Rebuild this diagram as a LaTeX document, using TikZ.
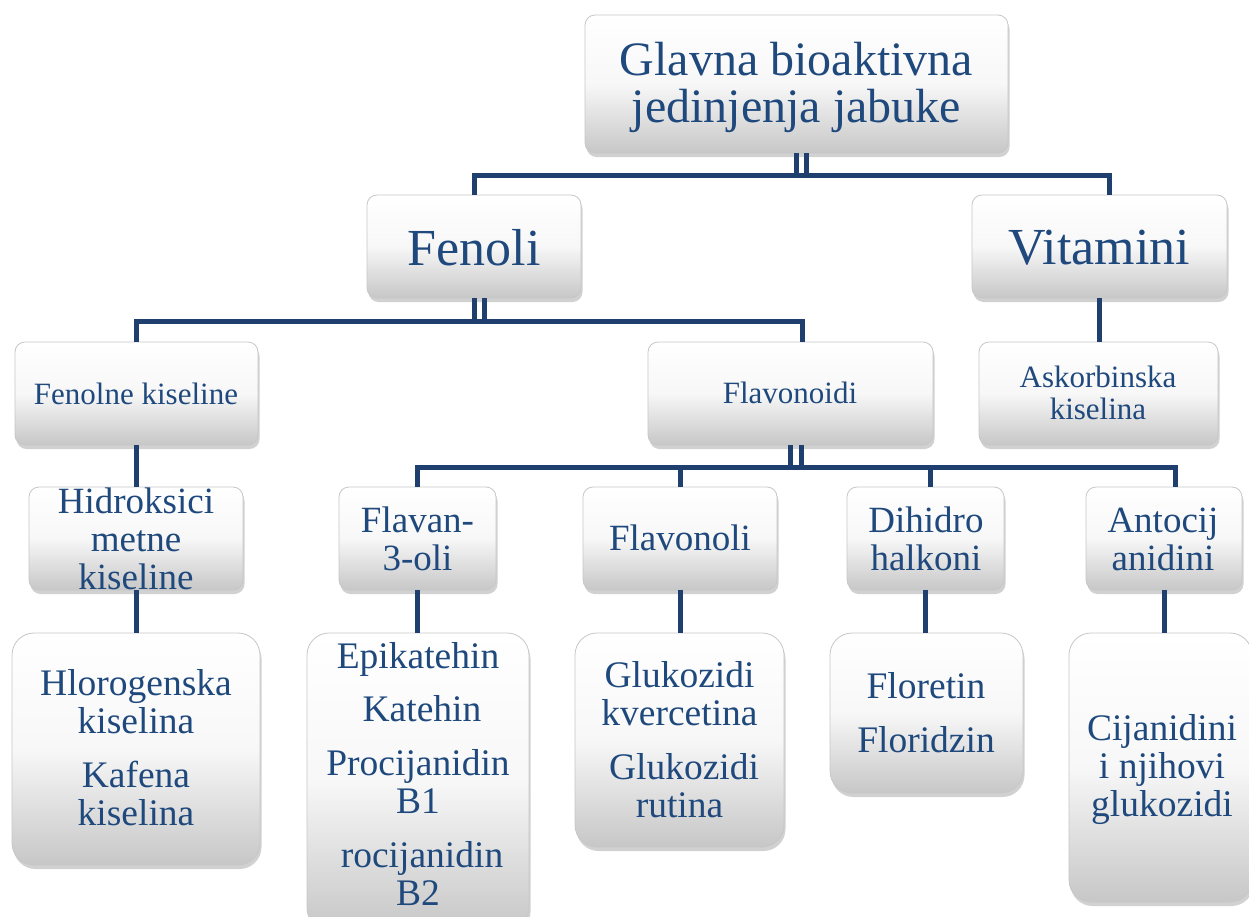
\documentclass[tikz,border=0pt]{standalone}
\usepackage{fontspec}
\setmainfont{Liberation Serif}
\usetikzlibrary{shadows}
\definecolor{txtblue}{HTML}{1F497D}
\definecolor{lineblue}{HTML}{1F406E}
\newcommand\fsRoot{\fontsize{48}{47}\selectfont}
\newcommand\fsBig{\fontsize{52}{54}\selectfont}
\newcommand\fsSmall{\fontsize{31}{32}\selectfont}
\newcommand\fsMid{\fontsize{37}{38}\selectfont}
\newcommand\fsLow{\fontsize{37.5}{38}\selectfont}
\newcommand\tb[1]{\begin{tabular}[t]{@{}c@{}}#1\end{tabular}}
\begin{document}
\begin{tikzpicture}[x=1pt,y=-1pt,
  box/.style={rectangle, rounded corners=10pt, draw=black!22, line width=0.8pt,
    top color=white, bottom color=black!22, middle color=black!3,
    drop shadow={shadow xshift=1.5pt, shadow yshift=-4pt, opacity=0.3, fill=black!60},
    inner sep=0pt},
  bigbox/.style={box, rounded corners=22pt},
  txt/.style={text=txtblue, inner sep=0pt, anchor=base},
  conn/.style={draw=lineblue, line width=5pt}]
\useasboundingbox (0,0) rectangle (1249,916);

% boxes
\node[box, minimum width=423pt, minimum height=138pt] (root) at (796.5,84) {};
\node[box, minimum width=214pt, minimum height=103pt] (fenoli) at (474,246.5) {};
\node[box, minimum width=255pt, minimum height=103pt] (vitamini) at (1099.5,246.5) {};
\node[box, minimum width=243pt, minimum height=103pt] (fenolne) at (136.5,393.5) {};
\node[box, minimum width=285pt, minimum height=103pt] (flavonoidi) at (790.5,393.5) {};
\node[box, minimum width=239pt, minimum height=103pt] (askorb) at (1098.5,393.5) {};
\node[box, minimum width=214pt, minimum height=103pt] (hidrok) at (136,538.5) {};
\node[box, minimum width=157pt, minimum height=103pt] (flavan) at (417.5,538.5) {};
\node[box, minimum width=194pt, minimum height=103pt] (flavonoli) at (680,538.5) {};
\node[box, minimum width=157pt, minimum height=103pt] (dihidro) at (925.5,538.5) {};
\node[box, minimum width=156pt, minimum height=103pt] (antocij) at (1164,538.5) {};
\node[bigbox, minimum width=248pt, minimum height=232pt] (hloro) at (136,749) {};
\node[bigbox, minimum width=222pt, minimum height=297pt] (epik) at (418,781.5) {};
\node[bigbox, minimum width=209pt, minimum height=214pt] (gluk) at (679.5,740) {};
\node[bigbox, minimum width=193pt, minimum height=160pt] (flor) at (926.5,713) {};
\node[bigbox, minimum width=183pt, minimum height=269pt] (cijan) at (1160.5,767.5) {};

% connectors
\draw[conn] (root.south) -- ++(0,23);
\draw[conn] ([xshift=10pt]root.south) -- ++(0,23);
\draw[conn] (fenoli.north) -- ++(0,-19) -| ([xshift=9.5pt]vitamini.north);

\draw[conn] (fenoli.south) -- ++(0,23.5);
\draw[conn] ([xshift=10.5pt]fenoli.south) -- ++(0,23.5);
\draw[conn] (fenolne.north) -- ++(0,-20.5) -| ([xshift=11.5pt]flavonoidi.north);

\draw[conn] (vitamini.south) -- (vitamini.south |- askorb.north);
\draw[conn] (fenolne.south) -- (fenolne.south |- hidrok.north);

\draw[conn] (flavonoidi.south) -- ++(0,22.5);
\draw[conn] ([xshift=11pt]flavonoidi.south) -- ++(0,22.5);
\draw[conn] (flavan.north) -- ++(0,-19.5) -| ([xshift=11.5pt]antocij.north);
\draw[conn] (flavonoli.north) -- ++(0,-19.5);
\draw[conn] ([xshift=5pt]dihidro.north) -- ++(0,-19.5);

\draw[conn] (hidrok.south) -- (hidrok.south |- hloro.north);
\draw[conn] (flavan.south) -- (flavan.south |- epik.north);
\draw[conn] (flavonoli.south) -- (flavonoli.south |- gluk.north);
\draw[conn] (dihidro.south) -- (dihidro.south |- flor.north);
\draw[conn] (antocij.south) -- (antocij.south |- cijan.north);

% texts
\node[txt, font=\fsRoot] (t-root) at (796.5,75) {\tb{Glavna bioaktivna\\ jedinjenja jabuke}};
\node[txt, font=\fsBig] (t-fenoli) at (474,265) {Fenoli};
\node[txt, font=\fsBig] (t-vitamini) at (1099,264) {Vitamini};
\node[txt, font=\fsSmall] (t-fenolne) at (136,404) {Fenolne kiseline};
\node[txt, font=\fsSmall] (t-flavonoidi) at (790,403) {Flavonoidi};
\node[txt, font=\fsSmall] (t-askorb) at (1098,387) {\tb{Askorbinska\\ kiselina}};
\node[txt, font=\fsMid] (t-hidrok) at (136,513) {\tb{Hidroksici\\ metne\\ kiseline}};
\node[txt, font=\fsMid] (t-flavan) at (417.5,532) {\tb{Flavan-\\ 3-oli}};
\node[txt, font=\fsMid] (t-flavonoli) at (680,550) {Flavonoli};
\node[txt, font=\fsMid] (t-dihidro) at (926,532) {\tb{Dihidro\\ halkoni}};
\node[txt, font=\fsMid] (t-antocij) at (1163,532) {\tb{Antocij\\ anidini}};
\node[txt, font=\fsLow] (t-hloro) at (136,695) {\tb{Hlorogenska\\ kiselina\\[16pt] Kafena\\ kiselina}};
\node[txt, font=\fsLow] (t-epik) at (418,668) {\tb{Epikatehin\\[15pt] \hspace{8pt}Katehin\\[16pt] Procijanidin\\ B1\\[16pt] \hspace{8pt}rocijanidin\\ B2}};
\node[txt, font=\fsLow] (t-gluk) at (679.5,687) {\tb{Glukozidi\\ kvercetina\\[16pt] \hspace{9pt}Glukozidi\\ rutina}};
\node[txt, font=\fsLow] (t-flor) at (926,698) {\tb{Floretin\\[16pt] Floridzin}};
\node[txt, font=\fsLow] (t-cijan) at (1162,740) {\tb{Cijanidini\\ i njihovi\\ glukozidi}};
\end{tikzpicture}
\end{document}
